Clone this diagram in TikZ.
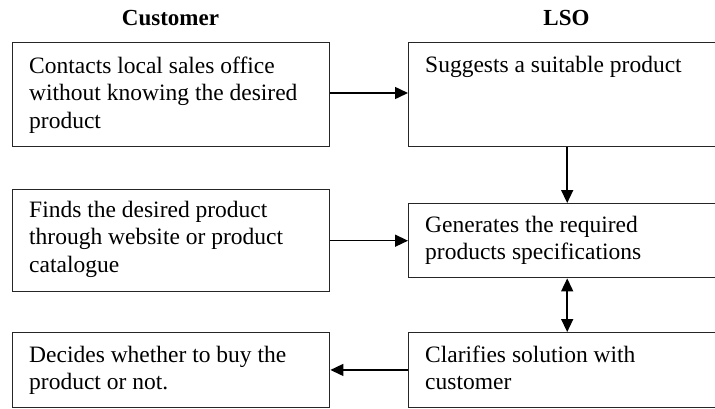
\documentclass[tikz,border=0pt]{standalone}
\usepackage{fontspec}
\setmainfont{Liberation Serif}
\usetikzlibrary{arrows.meta,calc}
\begin{document}
\begin{tikzpicture}[x=1pt,y=-1pt,
  box/.style={draw=black!85,line width=1.4pt,rectangle,inner sep=0pt,minimum width=317pt,anchor=north west},
  txt/.style={anchor=base west,inner sep=0pt,align=left,font=\fontsize{23.5}{27.5}\selectfont},
  head/.style={anchor=base,inner sep=0pt,font=\fontsize{23}{26}\selectfont\bfseries},
  tip/.style={Triangle[length=13pt,width=12pt]},
  conn/.style={line width=1.5pt,draw=black,-{Triangle[length=13pt,width=12pt]}},
  dconn/.style={line width=1.5pt,draw=black,{Triangle[length=13pt,width=12pt]}-{Triangle[length=13pt,width=12pt]}}]
\useasboundingbox (0,0) rectangle (715,408);
\node[head] (hc) at (170.5,25) {Customer};
\node[head] (hl) at (566.5,25) {LSO};
% boxes
\node[box,minimum height=104pt] (l1) at (12,42) {};
\node[box,minimum height=102pt] (l2) at (12,189) {};
\node[box,minimum height=74.5pt] (l3) at (12,332) {};
\node[box,minimum height=104pt] (r1) at (408,42) {};
\node[box,minimum height=74pt] (r2) at (408,203) {};
\node[box,minimum height=74.5pt] (r3) at (408,332) {};
% texts (base = baseline of last line)
\node[txt] (t1) at ($(l1.north west)+(17,86)$) {Contacts local sales office\\without knowing the desired\\product};
\node[txt] (t2) at ($(l2.north west)+(17,83)$) {Finds the desired product\\through website or product\\catalogue};
\node[txt] (t3) at ($(l3.north west)+(17,57.5)$) {Decides whether to buy the\\product or not.};
\node[txt] (t4) at ($(r1.north west)+(17,30)$) {Suggests a suitable product};
\node[txt] (t5) at ($(r2.north west)+(17,56.5)$) {Generates the required\\products specifications};
\node[txt] (t6) at ($(r3.north west)+(17,57.5)$) {Clarifies solution with\\customer};
% connectors
\draw[conn] (l1.east |- 0,93) -- (r1.west |- 0,93);
\draw[conn] (l2.east |- r2.west) -- (r2.west);
\draw[conn] (r3.west) -- (l3.east |- r3.west);
\draw[conn] (r1.south) -- (r2.north);
\draw[dconn] (r2.south) -- (r3.north);
\end{tikzpicture}
\end{document}
